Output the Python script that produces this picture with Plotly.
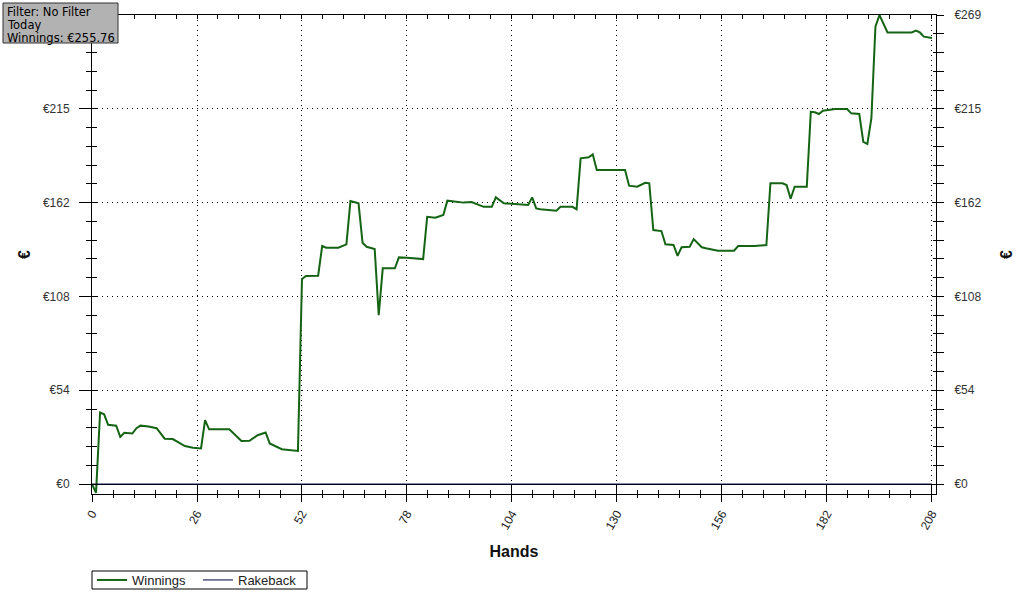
import plotly.graph_objects as go

# ---- data ----
hands = [0, 1, 2, 3, 4, 6, 7, 8, 10, 11, 12, 14, 16, 18, 20, 23, 25, 27, 28, 29, 34, 37, 39,
         41, 43, 44, 47, 49, 51, 52, 53, 56, 57, 58, 61, 63, 64, 66, 67, 68, 70, 71, 72, 75,
         76, 78, 82, 83, 85, 87, 88, 92, 94, 97, 99, 100, 102, 108, 109, 110, 111, 115, 116,
         119, 120, 121, 123, 124, 125, 132, 133, 135, 137, 138, 139, 141, 142, 144, 145, 146,
         148, 149, 151, 152, 155, 159, 160, 164, 167, 168, 171, 172, 173, 174, 177, 178, 179,
         180, 181, 184, 187, 188, 190, 191, 192, 193, 194, 195, 197, 203, 204, 205, 206, 208]
winnings = [0, -5, 41, 40, 34, 33.5, 27, 29.4, 29, 32, 33.5, 33, 32, 26, 25.8, 21.8, 20.8,
            20.4, 36.7, 31.4, 31.4, 24.7, 24.8, 28, 29.6, 23.3, 20, 19.5, 19, 117.6, 119.3,
            119.5, 136.5, 135.5, 135.5, 137.5, 162.3, 161, 138.4, 136.1, 134.8, 96.9, 123.7,
            123.7, 130, 129.8, 129, 153.3, 152.7, 154.3, 162.5, 161.4, 161.7, 159, 159, 164.4,
            161, 160, 164.4, 158.1, 157.6, 156.8, 159, 159, 157.6, 186.8, 187.4, 189.1, 180.1,
            180.1, 171.1, 170.5, 172.8, 172.5, 145.7, 145.1, 137.5, 137.1, 130.9, 135.8, 136.1,
            140.5, 135.8, 135.2, 133.8, 133.8, 136.5, 136.5, 137.1, 172.5, 172.5, 171.5, 163.6,
            170.5, 170.5, 213.5, 213.2, 212.2, 214.1, 215.1, 215.1, 212.6, 212.2, 196.3, 195,
            209.8, 262.3, 269, 259, 259, 260, 259, 256.6, 255.76]
rake_hands = [0, 208]
rakeback = [0, 0]

y_tickvals = [0, 53.8, 107.6, 161.4, 215.2, 269]
y_ticktext = ["€0", "€54", "€108", "€162", "€215", "€269"]
y_ticktext_left = ["€0", "€54", "€108", "€162", "€215", ""]  # top-left label sits under the info box
info_lines = ["Filter: No Filter", "Today", "Winnings: €255.76"]
x_range = [0, 209]
y_range = [-5.7, 269]

FONT = "Arial, Liberation Sans, sans-serif"

# plot area in pixels: x 92..936, y 15..494
PL, PR, PT, PB = 92, 936, 15, 494
def px(x):
    return (x - PL) / (PR - PL)
def py(y):
    return (PB - y) / (PB - PT)

fig = go.Figure()
fig.add_trace(go.Scatter(x=hands, y=winnings, mode="lines", name="Winnings",
                         line=dict(color="#146414", width=2)))
fig.add_trace(go.Scatter(x=rake_hands, y=rakeback, mode="lines", name="Rakeback",
                         line=dict(color="#00003a", width=1)))
# transparent copies so that the overlaid tick axes get drawn
for xa, ya in [("x2", "y"), ("x3", "y"), ("x", "y2"), ("x", "y3"), ("x", "y4")]:
    fig.add_trace(go.Scatter(x=rake_hands, y=rakeback, mode="lines", xaxis=xa, yaxis=ya,
                             opacity=0, showlegend=False, hoverinfo="skip",
                             line=dict(color="#00003a", width=1)))

grid = dict(showgrid=True, gridcolor="black", gridwidth=1, griddash="1px,4px")
minor_x = dict(tickcolor="black", tickmode="linear", tick0=0, dtick=5.2, showgrid=False)
minor_y = dict(tickcolor="black", tickmode="linear", tick0=0, dtick=10.76, showgrid=False)

fig.update_layout(
    width=1022, height=596,
    margin=dict(l=PL, r=1022 - PR, t=PT, b=596 - PB, autoexpand=False),
    paper_bgcolor="white", plot_bgcolor="white",
    font=dict(family=FONT, size=12, color="#222"),
    showlegend=True,
    legend=dict(orientation="h", x=0, xanchor="left", y=py(565), yanchor="top",
                bgcolor="rgba(0,0,0,0)", borderwidth=0,
                font=dict(family=FONT, size=13, color="#222"),
                itemwidth=30, entrywidth=61, entrywidthmode="pixels", tracegroupgap=0),
    xaxis=dict(range=x_range, anchor="y", side="bottom", showline=True, linecolor="black",
               linewidth=1, ticks="outside", ticklen=7, tickcolor="black",
               tickmode="linear", tick0=0, dtick=26, tickangle=-60, automargin=False,
               tickfont=dict(family=FONT, size=12, color="#222"),
               zeroline=False,
               minor=dict(ticks="outside", ticklen=3, **minor_x),
               title=dict(text="<b>Hands</b>", font=dict(family=FONT, size=16, color="#111"),
                          standoff=14),
               **grid),
    xaxis2=dict(range=x_range, overlaying="x", anchor="y", side="bottom", showline=False,
                ticks="inside", ticklen=9, tickcolor="black", tickmode="linear", tick0=0,
                dtick=26, showticklabels=False, showgrid=False, zeroline=False,
                minor=dict(ticks="inside", ticklen=4, **minor_x)),
    xaxis3=dict(range=x_range, overlaying="x", anchor="y", side="top", showline=True,
                linecolor="black", ticks="inside", ticklen=4, tickcolor="black",
                tickmode="linear", tick0=0, dtick=26, showticklabels=False,
                showgrid=False, zeroline=False,
                minor=dict(ticks="inside", ticklen=4, **minor_x)),
    yaxis=dict(range=y_range, anchor="x", side="left", showline=True, linecolor="black",
               linewidth=1, ticks="outside", ticklen=12, tickcolor="black",
               tickmode="array", tickvals=y_tickvals, ticktext=y_ticktext_left,
               ticklabelstandoff=7, automargin=False,
               tickfont=dict(family=FONT, size=12, color="#333"),
               zeroline=True, zerolinecolor="black", zerolinewidth=1,
               minor=dict(ticks="outside", ticklen=5, **minor_y),
               title=dict(text="<b>€</b>", font=dict(family=FONT, size=16, color="#111"),
                          standoff=8),
               **grid),
    yaxis3=dict(range=y_range, overlaying="y", anchor="x", side="left", showline=False,
                ticks="inside", ticklen=5, tickcolor="black", tickmode="array",
                tickvals=y_tickvals, showticklabels=False, showgrid=False, zeroline=False,
                minor=dict(ticks="inside", ticklen=5, **minor_y)),
    yaxis2=dict(range=y_range, overlaying="y", anchor="x", side="right", showline=True,
                linecolor="black", ticks="outside", ticklen=7, tickcolor="black",
                tickmode="array", tickvals=y_tickvals, ticktext=y_ticktext,
                ticklabelstandoff=8, automargin=False,
                tickfont=dict(family=FONT, size=12, color="#333"),
                showgrid=False, zeroline=False,
                minor=dict(ticks="outside", ticklen=7, **minor_y),
                title=dict(text="<b>€</b>", font=dict(family=FONT, size=16, color="#111"),
                           standoff=20)),
    yaxis4=dict(range=y_range, overlaying="y", anchor="x", side="right", showline=False,
                ticks="inside", ticklen=3, tickcolor="black", tickmode="array",
                tickvals=y_tickvals, showticklabels=False, showgrid=False, zeroline=False,
                minor=dict(ticks="inside", ticklen=3, **minor_y)),
)

# legend frame
fig.add_shape(type="rect", xref="paper", yref="paper",
              x0=px(92), x1=px(307), y0=py(589), y1=py(571),
              line=dict(color="black", width=1), fillcolor="rgba(0,0,0,0)", layer="above")

# info box (top-left)
fig.add_shape(type="rect", xref="paper", yref="paper",
              x0=px(3), x1=px(118), y0=py(43), y1=py(3),
              line=dict(color="#333", width=1), fillcolor="#b2b2b2", layer="above")
for i, line_text in enumerate(info_lines):
    fig.add_annotation(
        xref="paper", yref="paper", x=px(6), y=py(12 + 13 * i),
        xanchor="left", yanchor="middle", align="left", showarrow=False,
        text=line_text,
        font=dict(family="DejaVu Sans, Verdana, sans-serif", size=11.5, color="black"),
        borderpad=0,
    )

fig.write_html("out.html")
